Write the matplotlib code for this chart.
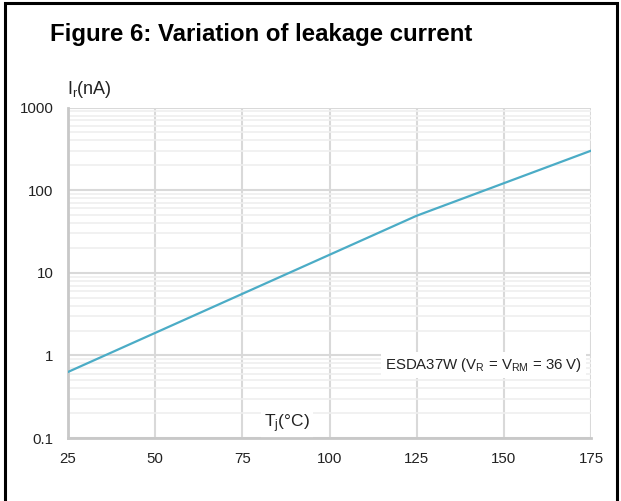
import matplotlib
matplotlib.use("Agg")
import matplotlib.pyplot as plt
from matplotlib.patches import Rectangle
from matplotlib.ticker import LogLocator, FixedLocator, NullFormatter

plt.rcParams['font.family'] = ['Liberation Sans', 'DejaVu Sans']
plt.rcParams['mathtext.fontset'] = 'custom'
plt.rcParams['mathtext.rm'] = 'Liberation Sans'
plt.rcParams['mathtext.it'] = 'Liberation Sans'

# Data
tj = [25, 125, 175]
ir = [0.63, 49, 300]
x_ticks = [25, 50, 75, 100, 125, 150, 175]
y_ticks = [0.1, 1, 10, 100, 1000]
y_labels = ['0.1', '1', '10', '100', '1000']

fig = plt.figure(figsize=(6.21, 5.01), dpi=100)
ax = fig.add_axes([68/621, 1-438/501, (591-68)/621, (438-107.5)/501])

ax.plot(tj, ir, color='#4bacc6', lw=1.6, zorder=3)
ax.set_yscale('log')
ax.set_xlim(25, 175)
ax.set_ylim(0.1, 1000)

ax.xaxis.set_major_locator(FixedLocator(x_ticks))
ax.set_xticklabels([str(v) for v in x_ticks])
ax.yaxis.set_major_locator(FixedLocator(y_ticks))
ax.set_yticklabels(y_labels)
ax.yaxis.set_minor_locator(LogLocator(base=10, subs=range(2, 10)))
ax.yaxis.set_minor_formatter(NullFormatter())

ax.tick_params(axis='both', which='both', length=0, labelsize=10.8, colors='#222222')
ax.tick_params(axis='y', pad=10.5)
ax.tick_params(axis='x', pad=10)

ax.grid(True, which='major', axis='both', color='#d9d9d9', lw=1.5, zorder=0)
ax.grid(True, which='minor', axis='y', color='#efefef', lw=1.2, zorder=0)

for s in ['top', 'right']:
    ax.spines[s].set_visible(False)
for s in ['left', 'bottom']:
    ax.spines[s].set_color('#c8c8c8')
    ax.spines[s].set_linewidth(2)

fig.text(50/621, 1-34/501, 'Figure 6: Variation of leakage current',
         fontsize=17.3, fontweight='bold', va='center', ha='left', color='black')
fig.text(67/621, 1-90/501, r'$\mathregular{I_r}$(nA)', fontsize=13, va='center', ha='left',
         color='#222222')

ax.text(287/621, 1-424/501, r'$\mathregular{T_j}$(°C)', fontsize=12.5, ha='center', va='center',
        color='#222222', zorder=2.4, transform=fig.transFigure,
        bbox=dict(facecolor='white', edgecolor='none', pad=2))
ax.text(582/621, 1-365/501, r'ESDA37W (V$\mathregular{_R}$ = V$\mathregular{_{RM}}$ = 36 V)',
        ha='right', va='center', fontsize=10.8, color='#222222', zorder=2.4,
        transform=fig.transFigure,
        bbox=dict(facecolor='white', edgecolor='none', pad=3))

fig.patches.append(Rectangle((5/621, -0.05), (617-5)/621, 1.05-3/501, transform=fig.transFigure,
                             fill=False, edgecolor='black', lw=2.2, zorder=10))

fig.savefig('out.png', dpi=100)
